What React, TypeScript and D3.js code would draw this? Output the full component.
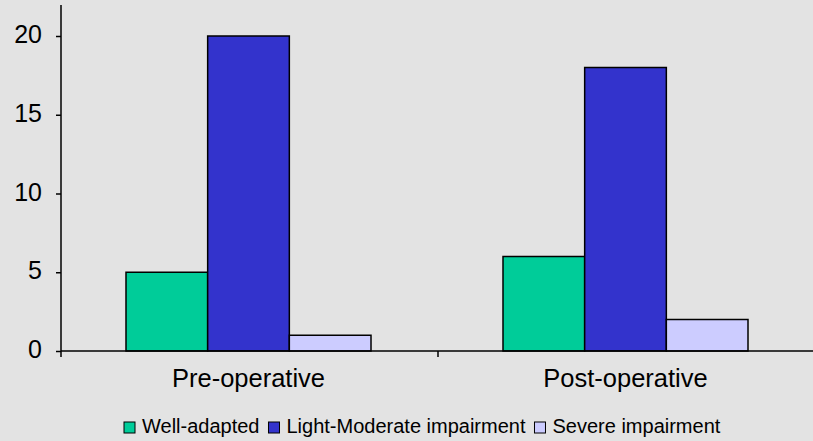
import React, { useEffect, useRef } from 'react';
import * as d3 from 'd3';

const categories = ['Pre-operative', 'Post-operative'];
const seriesNames = ['Well-adapted', 'Light-Moderate impairment', 'Severe impairment'];
const wellAdapted = [5, 6];
const lightModerate = [20, 18];
const severe = [1, 2];
const yTicks = [0, 5, 10, 15, 20];
const colors = ['#00CC99', '#3333CC', '#CCCCFF'];

const App: React.FC = () => {
  const chartRef = useRef<SVGSVGElement>(null);

  useEffect(() => {
    document.body.style.margin = '0';
    document.body.style.background = '#e3e3e3';
    const svg = d3.select(chartRef.current);
    svg.selectAll('*').remove();
    const W = 813;
    const H = 441;
    const font = 'Liberation Sans, Arial, Helvetica, sans-serif';

    svg.append('rect').attr('width', W).attr('height', H).attr('fill', '#e3e3e3');

    const left = 61;
    const right = 815;
    const top = 36;
    const bottom = 351;

    const y = d3.scaleLinear().domain([0, 20]).range([bottom, top]);
    const x0 = d3.scaleBand().domain(categories).range([left, right]).paddingInner(0).paddingOuter(0);
    const groupPad = 65;
    const x1 = d3
      .scaleBand()
      .domain(seriesNames)
      .range([0, x0.bandwidth() - 132])
      .padding(0);

    const series = [wellAdapted, lightModerate, severe];
    const data = categories.flatMap((c, i) =>
      seriesNames.map((s, j) => ({ cat: c, name: s, value: series[j][i], color: colors[j] }))
    );

    svg
      .append('g')
      .selectAll('rect')
      .data(data)
      .join('rect')
      .attr('x', (d) => x0(d.cat)! + groupPad + x1(d.name)!)
      .attr('y', (d) => y(d.value))
      .attr('width', x1.bandwidth())
      .attr('height', (d) => y(0) - y(d.value))
      .attr('fill', (d) => d.color)
      .attr('stroke', '#000')
      .attr('stroke-width', 1.5);

    // y axis
    const yAxis = svg
      .append('g')
      .attr('transform', `translate(${left},0)`)
      .call(d3.axisLeft(y).tickValues(yTicks).tickSize(5).tickPadding(14));
    yAxis.select('.domain').remove();
    yAxis.selectAll('line').attr('stroke', '#000').attr('stroke-width', 1.5);
    yAxis
      .selectAll('text')
      .attr('font-family', font)
      .attr('font-size', 25)
      .attr('fill', '#000')
      .attr('dy', '0.26em');
    svg
      .append('line')
      .attr('x1', left)
      .attr('x2', left)
      .attr('y1', 5)
      .attr('y2', bottom + 6)
      .attr('stroke', '#000')
      .attr('stroke-width', 1.5);

    // x axis
    svg
      .append('line')
      .attr('x1', left)
      .attr('x2', W)
      .attr('y1', bottom)
      .attr('y2', bottom)
      .attr('stroke', '#000')
      .attr('stroke-width', 1.5);
    svg
      .append('g')
      .selectAll('line')
      .data(categories.slice(1))
      .join('line')
      .attr('x1', (d) => x0(d)!)
      .attr('x2', (d) => x0(d)!)
      .attr('y1', bottom)
      .attr('y2', bottom + 6)
      .attr('stroke', '#000')
      .attr('stroke-width', 1.5);
    svg
      .append('g')
      .selectAll('text')
      .data(categories)
      .join('text')
      .attr('x', (d) => x0(d)! + groupPad + (x0.bandwidth() - 132) / 2)
      .attr('y', 387)
      .attr('text-anchor', 'middle')
      .attr('font-family', font)
      .attr('font-size', 25.5)
      .attr('fill', '#000')
      .text((d) => d);

    // legend
    const legend = svg.append('g').attr('transform', 'translate(124,422)');
    let lx = 0;
    seriesNames.forEach((name, i) => {
      const g = legend.append('g').attr('transform', `translate(${lx},0)`);
      g.append('rect')
        .attr('width', 11)
        .attr('height', 11)
        .attr('fill', colors[i])
        .attr('stroke', '#000')
        .attr('stroke-width', 1);
      const t = g
        .append('text')
        .attr('x', 18)
        .attr('y', 11)
        .attr('font-family', font)
        .attr('font-size', 20)
        .attr('fill', '#000')
        .text(name);
      const w = (t.node() as SVGTextElement).getComputedTextLength();
      lx += 18 + w + 9;
    });
  }, []);

  return (
    <div>
      <svg ref={chartRef} width={813} height={441} style={{ display: 'block' }}></svg>
    </div>
  );
};

export default App;
